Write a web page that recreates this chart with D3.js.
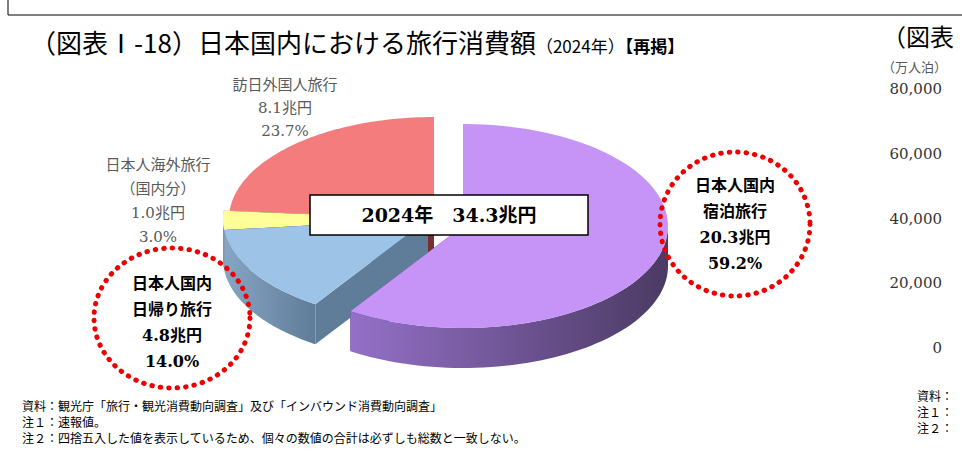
<!DOCTYPE html>
<html><head><meta charset="utf-8">
<script src="https://cdn.jsdelivr.net/npm/d3@7"></script>
<style>body{margin:0;background:#fff}</style>
</head><body><svg id="c" width="962" height="451"></svg>
<script>
const categories = ["日本人国内宿泊旅行", "日本人国内日帰り旅行", "日本人海外旅行（国内分）", "訪日外国人旅行"];
const amounts = [20.3, 4.8, 1.0, 8.1];
const shares = [59.2, 14.0, 3.0, 23.7];
const sideTicks = [0, 20000, 40000, 60000, 80000];
const notes = [
  "資料：観光庁「旅行・観光消費動向調査」及び「インバウンド消費動向調査」",
  "注１：速報値。",
  "注２：四捨五入した値を表示しているため、個々の数値の合計は必ずしも総数と一致しない。"
];

const svg = d3.select("#c");
const serif = "'DejaVu Serif','Liberation Serif','Noto Sans CJK JP',serif";
const sans = "'Noto Sans CJK JP',sans-serif";

// frame line at top
svg.append("path").attr("d", "M8,0V15H962").attr("fill", "none").attr("stroke", "#000").attr("stroke-width", 1);

// title
const t = svg.append("text").attr("x", 30).attr("y", 53).attr("font-family", sans).attr("fill", "#000");
t.append("tspan").attr("font-size", 26).text("（図表Ⅰ-18）日本国内における旅行消費額");
t.append("tspan").attr("font-size", 17).text("（2024年）");
t.append("tspan").attr("font-size", 17).attr("font-weight", "bold").text("【再掲】");

// 3D pie
const rx = 205, ry = 102, depth = 40;
const centers = [[463, 226], [428, 219], [428, 219], [434, 219]];
const fills = ["#c693f6", "#9dc3e6", "#ffff99", "#f47c7c"];
const sideDark = ["#4b3a63", "#5f7c98", "#7a7a3a", "#7a2f2f"];
const sideLight = ["#9470c8", "#87a6c4", "#b0b060", "#a04545"];

const pie = d3.pie().sort(null).value(d => d);
const arcs = pie(shares);

const defs = svg.append("defs");
arcs.forEach((a, i) => {
  const g = defs.append("linearGradient").attr("id", "g" + i).attr("x1", 0).attr("x2", 1);
  g.append("stop").attr("offset", 0).attr("stop-color", sideLight[i]);
  g.append("stop").attr("offset", 1).attr("stop-color", sideDark[i]);
});

const pt = (c, ang, dy = 0) => [c[0] + rx * Math.sin(ang), c[1] - ry * Math.cos(ang) + dy];
function rim(c, a0, a1, dy) {
  const n = 60, p = [];
  for (let k = 0; k <= n; k++) p.push(pt(c, a0 + (a1 - a0) * k / n, dy));
  return p;
}
const line = d3.line();

const order = [3, 2, 1, 0];
order.forEach(i => {
  const a = arcs[i], c = centers[i];
  const g = svg.append("g");
  // radial walls
  [a.startAngle, a.endAngle].forEach(ang => {
    const p = pt(c, ang);
    g.append("path").attr("d", line([c, p, [p[0], p[1] + depth], [c[0], c[1] + depth]]) + "Z")
      .attr("fill", sideDark[i]);
  });
  // outer wall on the front half
  const s = Math.max(a.startAngle, Math.PI / 2), e = Math.min(a.endAngle, 3 * Math.PI / 2);
  if (e > s) {
    const top = rim(c, s, e, 0), bot = rim(c, e, s, depth);
    g.append("path").attr("d", line(top.concat(bot)) + "Z").attr("fill", `url(#g${i})`);
  }
  // top face
  g.append("path").attr("d", line([c].concat(rim(c, a.startAngle, a.endAngle, 0))) + "Z")
    .attr("fill", fills[i]);
});

// total box
svg.append("rect").attr("x", 310).attr("y", 195).attr("width", 278).attr("height", 40)
  .attr("fill", "#fff").attr("stroke", "#000").attr("stroke-width", 1.5);
svg.append("text").attr("x", 449).attr("y", 222).attr("text-anchor", "middle")
  .attr("font-family", serif).attr("font-size", 19).attr("font-weight", "bold").text("2024年　34.3兆円");

function block(x, y0, lines, opt) {
  const tx = svg.append("text").attr("text-anchor", "middle").attr("font-family", opt.font)
    .attr("font-size", opt.size).attr("fill", opt.color).attr("font-weight", opt.weight || "normal");
  lines.forEach((l, k) => tx.append("tspan").attr("x", x).attr("y", y0 + k * opt.gap).text(l));
}
const grey = { font: serif, size: 15, color: "#595959", gap: 23 };
block(285, 90, ["訪日外国人旅行", amounts[3].toFixed(1) + "兆円", shares[3].toFixed(1) + "%"], grey);
block(158, 170, ["日本人海外旅行", "（国内分）", amounts[2].toFixed(1) + "兆円", shares[2].toFixed(1) + "%"], { ...grey, gap: 24 });

const bold = { font: serif, size: 16, color: "#000", gap: 26, weight: "bold" };
svg.append("ellipse").attr("cx", 735).attr("cy", 224).attr("rx", 75).attr("ry", 72)
  .attr("fill", "none").attr("stroke", "#e00").attr("stroke-width", 5)
  .attr("stroke-dasharray", "0.5,8").attr("stroke-linecap", "round");
block(735, 191, ["日本人国内", "宿泊旅行", amounts[0].toFixed(1) + "兆円", shares[0].toFixed(1) + "%"], bold);
svg.append("ellipse").attr("cx", 172).attr("cy", 318).attr("rx", 78).attr("ry", 70)
  .attr("fill", "none").attr("stroke", "#e00").attr("stroke-width", 5)
  .attr("stroke-dasharray", "0.5,8").attr("stroke-linecap", "round");
block(172, 289, ["日本人国内", "日帰り旅行", amounts[1].toFixed(1) + "兆円", shares[1].toFixed(1) + "%"], bold);

// notes
notes.forEach((n, k) => svg.append("text").attr("x", 22).attr("y", 411 + k * 16)
  .attr("font-family", sans).attr("font-size", 12).text(n));

// partial neighbouring chart
svg.append("text").attr("x", 882).attr("y", 46).attr("font-family", sans).attr("font-size", 24).text("（図表");
svg.append("text").attr("x", 882).attr("y", 72).attr("font-family", sans).attr("font-size", 13)
  .attr("fill", "#595959").text("（万人泊）");
const y = d3.scaleLinear().domain([0, 80000]).range([348, 89]);
sideTicks.forEach(v => svg.append("text").attr("x", 942).attr("y", y(v) + 5).attr("text-anchor", "end")
  .attr("font-family", serif).attr("font-size", 15).attr("fill", "#333").text(d3.format(",")(v)));
["資料：", "注１：", "注２："].forEach((s, k) => svg.append("text").attr("x", 917).attr("y", 401 + k * 16)
  .attr("font-family", sans).attr("font-size", 12).text(s));
</script></body></html>
